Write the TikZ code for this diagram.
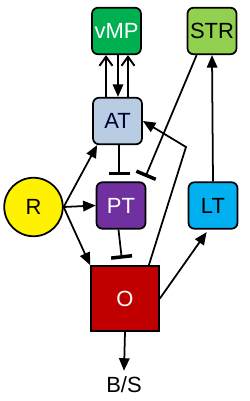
\documentclass[tikz,border=0pt]{standalone}
\usepackage{fontspec}
\setmainfont{Liberation Sans}
\usetikzlibrary{arrows.meta, positioning, calc}

\definecolor{vmpgreen}{RGB}{0,176,80}
\definecolor{strgreen}{RGB}{146,208,80}
\definecolor{atblue}{RGB}{184,204,228}
\definecolor{ptpurple}{RGB}{112,48,160}
\definecolor{ltcyan}{RGB}{0,176,240}
\definecolor{ored}{RGB}{192,0,0}

\begin{document}
\begin{tikzpicture}[
    font=\fontsize{12.5}{15}\selectfont,
    box/.style={draw, line width=1pt, rounded corners=0.12cm, minimum width=0.98cm, minimum height=0.93cm, inner sep=0pt},
    vmpbox/.style={box, fill=vmpgreen, text=white},
    strbox/.style={box, fill=strgreen},
    atbox/.style={box, fill=atblue, text=black!80!blue},
    ptbox/.style={box, fill=ptpurple, text=white},
    ltbox/.style={box, fill=ltcyan},
    act/.style={line width=1pt, -{Triangle[length=0.25cm, width=0.21cm]}},
    up/.style={line width=1pt, -{Straight Barb[length=0.18cm, width=0.26cm, line width=1.1pt]}},
    inh/.style={line width=1pt, -{Bar[width=0.42cm, line width=2pt]}}
]
    \useasboundingbox (0,0) rectangle (5,8.02);

    % nodes
    \node[vmpbox] (vMP) at (2.33, 7.40) {vMP};
    \node[strbox] (STR) at (4.24, 7.40) {STR};
    \node[atbox] (AT) at (2.35, 5.60) {AT};
    \node[ptbox] (PT) at (2.42, 3.91) {PT};
    \node[ltbox] (LT) at (4.26, 3.91) {LT};
    \node[draw, line width=1pt, circle, fill=yellow, minimum size=1.17cm, inner sep=0pt] (R) at (0.67, 3.88) {R};
    \node[draw, line width=1pt, fill=ored, text=white, minimum width=1.36cm, minimum height=1.30cm, inner sep=0pt] (O) at (2.50, 2.05) {O};
    \node (BS) at (2.48, 0.32) {B/S};
    \coordinate (bend) at (3.72, 5.08);

    % vMP <-> AT
    \draw[up] ([xshift=-0.23cm]AT.north) -- ([xshift=-0.21cm]vMP.south);
    \draw[act] ([xshift=0.03cm]vMP.south) -- ([xshift=0.01cm]AT.north);
    \draw[up] ([xshift=0.21cm]AT.north) -- ([xshift=0.23cm]vMP.south);

    % inhibitions
    \draw[inh, shorten >=0.12cm] ([xshift=0.03cm]AT.south) -- ([xshift=-0.04cm]PT.north);
    \draw[inh, shorten >=0.13cm] ([xshift=-0.05cm]PT.south) -- ([xshift=-0.05cm]O.north);
    \draw[inh] ([xshift=0.2cm]STR.south west) -- ([shift={(-0.02cm,0.09cm)}]PT.north east);

    % activations
    \draw[act] (R.east) -- ([xshift=0.1cm]AT.south west);
    \draw[act] (R.east) -- (PT.west);
    \draw[act] (R.east) -- (O.north west);
    \draw[act] ([xshift=-0.22cm]O.north east) -- (bend) -- (AT.east);
    \draw[act] (O.east) -- ([shift={(0.38cm,-0.05cm)}]LT.south west);
    \draw[act] (LT.north) -- (STR.south);
    \draw[act] (O.south) -- (BS.north);
\end{tikzpicture}
\end{document}
